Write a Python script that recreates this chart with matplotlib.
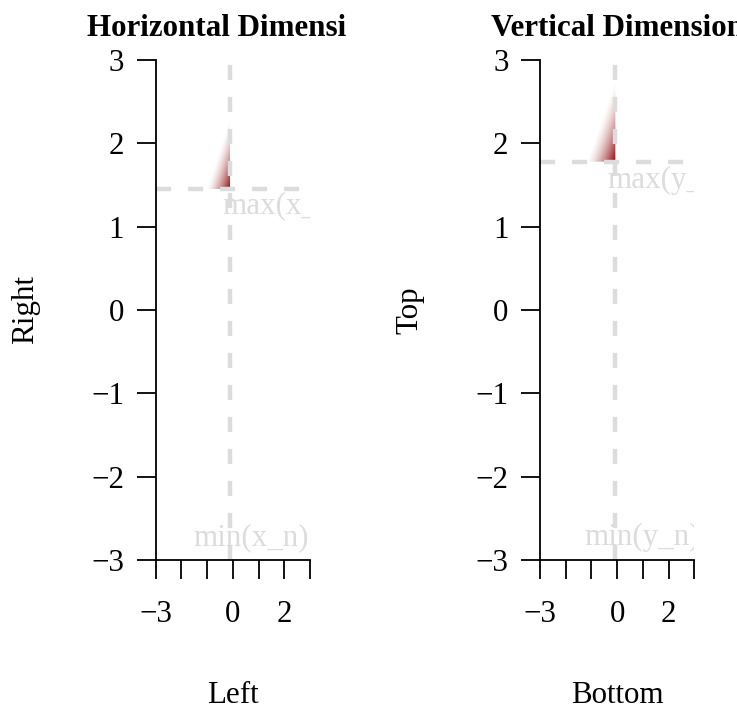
import numpy as np
import matplotlib
matplotlib.use("Agg")
import matplotlib.pyplot as plt
from matplotlib.patches import Polygon
from matplotlib.transforms import Bbox

plt.rcParams['font.family'] = ['Liberation Serif', 'DejaVu Serif']

# panel texts
titles = ["Horizontal Dimension", "Vertical Dimension"]
xlabels = ["Left", "Bottom"]
ylabels = ["Right", "Top"]
max_labels = ["max(x_n)", "max(y_n)"]
min_labels = ["min(x_n)", "min(y_n)"]

# values
vline_x = [-0.11, -0.07]      # dashed vertical line
hline_y = [1.45, 1.78]        # dashed horizontal line (max)
wedge_top = [2.35, 2.80]      # apex of the red wedge
wedge_left = [-1.05, -1.20]   # left end of wedge base
max_pos = [(-0.40, 1.16), (-0.37, 1.46)]
min_pos = [(-1.54, -2.82), (-1.28, -2.82)]

ticks = [-3, -2, -1, 0, 1, 2, 3]
xtick_labels = ["\u22123", "", "", "0", "", "2", ""]
ytick_labels = ["\u22123", "\u22122", "\u22121", "0", "1", "2", "3"]

W, H = 737, 709
fig = plt.figure(figsize=(W / 100, H / 100), dpi=100)
fs = 22.3
grey = "#dcdcdc"

lefts = [155.7, 540.0]
for i in range(2):
    ax = fig.add_axes([lefts[i] / W, (H - 560) / H, 154.3 / W, 500 / H])
    ax.set_xlim(-3, 3)
    ax.set_ylim(-3, 3)
    for s in ["top", "right"]:
        ax.spines[s].set_visible(False)
    ax.spines["left"].set_linewidth(1.3)
    ax.spines["bottom"].set_linewidth(1.3)
    ax.set_xticks(ticks)
    ax.set_xticklabels(xtick_labels, fontsize=fs)
    ax.set_yticks(ticks)
    ax.set_yticklabels(ytick_labels, fontsize=fs)
    ax.tick_params(length=13.7, width=1.3, direction="out")
    ax.tick_params(axis="x", pad=15)
    ax.tick_params(axis="y", pad=9)

    # red wedge: gradient clipped to a triangle
    xc, yc = vline_x[i], hline_y[i]
    wx, ht = xc - wedge_left[i], wedge_top[i] - yc
    gx, gy = np.meshgrid(np.linspace(wedge_left[i], xc, 200),
                         np.linspace(yc, wedge_top[i], 300))
    u = (xc - gx) / wx
    v = (gy - yc) / ht
    a = np.clip(1 - (u + v), 0, 1) ** 1.5
    img = np.zeros(gx.shape + (4,))
    img[..., 0] = 0.55
    img[..., 3] = a
    im = ax.imshow(img, extent=[wedge_left[i], xc, yc, wedge_top[i]],
                   origin="lower", aspect="auto", interpolation="bilinear", zorder=1)
    tri = Polygon([[xc, yc], [xc, wedge_top[i]], [wedge_left[i], yc]],
                  closed=True, transform=ax.transData, facecolor="none", edgecolor="none")
    ax.add_patch(tri)
    im.set_clip_path(tri)

    # dashed guide lines
    ax.plot([-3, 3], [hline_y[i], hline_y[i]], color=grey, lw=3.2,
            dashes=[3.4, 3.8], dash_capstyle="butt", zorder=2)
    ax.plot([vline_x[i], vline_x[i]], [-3, 3], color=grey, lw=3.2,
            dashes=[3.4, 3.8], dash_capstyle="butt", zorder=2)

    ax.text(max_pos[i][0], max_pos[i][1], max_labels[i], color=grey, fontsize=fs,
            ha="left", va="baseline", clip_on=True, zorder=3)
    ax.text(min_pos[i][0], min_pos[i][1], min_labels[i], color=grey, fontsize=fs,
            ha="left", va="baseline", clip_on=True, zorder=3)

    cx = lefts[i] + 154.3 / 2
    t = fig.text(cx / W, (H - 36) / H, titles[i], fontsize=fs, fontweight="bold",
                 ha="center", va="baseline")
    if i == 0:
        t.set_clip_box(Bbox([[0, 0], [347, H]]))
        t.set_clip_on(True)
    fig.text(cx / W, (H - 703) / H, xlabels[i], fontsize=fs, ha="center", va="baseline")
    fig.text((lefts[i] - 122.7) / W, (H - 310) / H, ylabels[i], fontsize=fs,
             rotation=90, rotation_mode="anchor", ha="center", va="baseline")

fig.savefig("out.png", dpi=100)
